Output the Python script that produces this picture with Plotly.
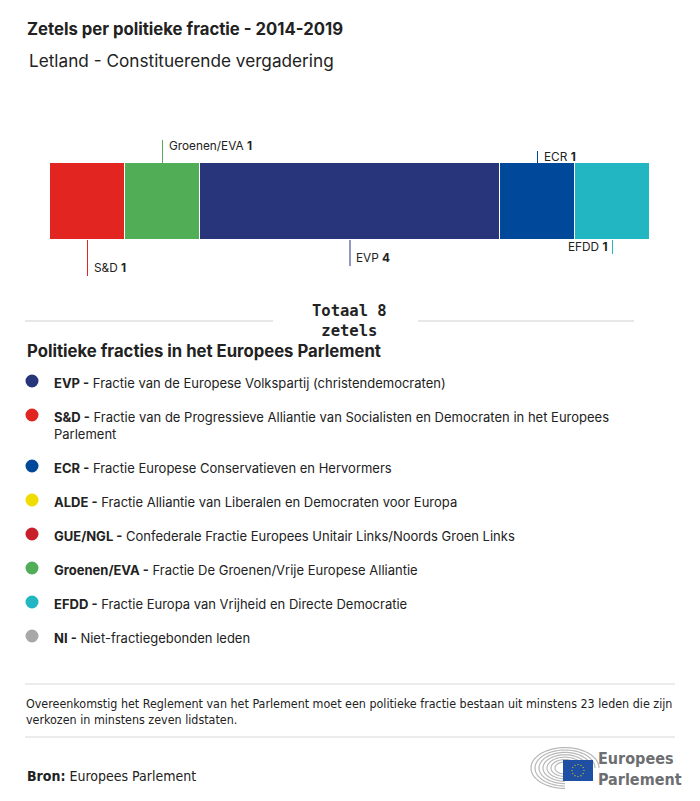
import plotly.graph_objects as go
import math

# ---------------- data ----------------
groups = ["S&D", "Groenen/EVA", "EVP", "ECR", "EFDD"]
seats = [1, 1, 4, 1, 1]
group_colors = ["#e32521", "#52ad57", "#29357a", "#00489a", "#22b6c3"]

legend_abbr = ["EVP", "S&D", "ECR", "ALDE", "GUE/NGL", "Groenen/EVA", "EFDD", "NI"]
legend_desc = [
    "Fractie van de Europese Volkspartij (christendemocraten)",
    "Fractie van de Progressieve Alliantie van Socialisten en Democraten in het Europees<br>Parlement",
    "Fractie Europese Conservatieven en Hervormers",
    "Fractie Alliantie van Liberalen en Democraten voor Europa",
    "Confederale Fractie Europees Unitair Links/Noords Groen Links",
    "Fractie De Groenen/Vrije Europese Alliantie",
    "Fractie Europa van Vrijheid en Directe Democratie",
    "Niet-fractiegebonden leden",
]
legend_colors = ["#29357a", "#e32521", "#00489a", "#f0dc00", "#c8202a", "#52ad57", "#22b6c3", "#a8a8a8"]

title = "Zetels per politieke fractie - 2014-2019"
subtitle = "Letland - Constituerende vergadering"
total_label = "Totaal 8<br>zetels"
legend_title = "Politieke fracties in het Europees Parlement"
footnote = ("Overeenkomstig het Reglement van het Parlement moet een politieke fractie bestaan uit minstens 23 leden die zijn<br>"
            "verkozen in minstens zeven lidstaten.")
source = "<b>Bron:</b> Europees Parlement"

# ---------------- layout helpers (pixel -> paper) ----------------
W, H = 700, 801
OFF = 8  # page body margin
def px(x): return (x - OFF) / W
def py(y): return 1 - (y - OFF) / H

FONT = "Inter, Lato, sans-serif"
NARROW = "Liberation Sans Narrow, DejaVu Sans Condensed, sans-serif"
TXT = "#222222"

label_style = [
    dict(y0=240, y1=276, ty=268, anchor="left"),
    dict(y0=140, y1=163, ty=146, anchor="left"),
    dict(y0=240, y1=266, ty=258, anchor="left"),
    dict(y0=151, y1=163, ty=157, anchor="left"),
    dict(y0=240, y1=254, ty=247, anchor="right"),
]

fig = go.Figure()
for g, s, c in zip(groups, seats, group_colors):
    fig.add_trace(go.Bar(
        x=[s], y=[0], orientation="h", name=g,
        marker=dict(color=c, line=dict(color="white", width=1.5)),
        width=1, showlegend=False, hovertemplate=g + ": %{x}<extra></extra>",
    ))

total = sum(seats)
shapes, ann = [], []
cum = 0
for g, s, c, st in zip(groups, seats, group_colors, label_style):
    center = cum + s / 2
    cum += s
    shapes.append(dict(type="line", xref="x", yref="paper", x0=center, x1=center,
                       y0=py(st["y0"]), y1=py(st["y1"]), line=dict(color=c, width=1)))
    gtxt = g.replace("&", "&amp;")
    left = st["anchor"] == "left"
    ann.append(dict(x=center, xref="x", xshift=4 if left else -3, y=py(st["ty"]), yref="paper",
                    text=f"{gtxt} <b>{s}</b>", showarrow=False,
                    xanchor="left" if left else "right",
                    yanchor="middle", font=dict(family=FONT, size=11.8, color=TXT)))

# titles
ann.append(dict(x=px(25), y=py(29), xref="paper", yref="paper", text=f"<b>{title}</b>",
                showarrow=False, xanchor="left", yanchor="middle",
                font=dict(family=FONT, size=16.7, color=TXT)))
ann.append(dict(x=px(27), y=py(60), xref="paper", yref="paper", text=subtitle,
                showarrow=False, xanchor="left", yanchor="middle",
                font=dict(family=FONT, size=17.2, color=TXT)))

# total
ann.append(dict(x=px(349), y=py(321), xref="paper", yref="paper", text=f"<b>{total_label}</b>",
                showarrow=False, xanchor="center", yanchor="middle",
                font=dict(family="DejaVu Sans Mono, monospace", size=15.5, color=TXT)))
for x0, x1 in [(25, 273), (418, 634)]:
    shapes.append(dict(type="line", xref="paper", yref="paper", x0=px(x0), x1=px(x1),
                       y0=py(321), y1=py(321), line=dict(color="#d0d0d0", width=1)))

# legend title
ann.append(dict(x=px(25), y=py(351), xref="paper", yref="paper", text=f"<b>{legend_title}</b>",
                showarrow=False, xanchor="left", yanchor="middle",
                font=dict(family=FONT, size=16.7, color=TXT)))

legend_rows = [381, 415, 466, 500, 534, 568, 602, 636]
for yy, a, d, c in zip(legend_rows, legend_abbr, legend_desc, legend_colors):
    r = 6.5
    shapes.append(dict(type="circle", xref="paper", yref="paper",
                       x0=px(32 - r), x1=px(32 + r), y0=py(yy + r), y1=py(yy - r),
                       fillcolor=c, line=dict(width=0)))
    a2 = a.replace("&", "&amp;")
    ann.append(dict(x=px(52), y=py(yy - 8), xref="paper", yref="paper",
                    text=f"<b>{a2} -</b> {d}", showarrow=False, xanchor="left", yanchor="top",
                    align="left", font=dict(family=FONT, size=13, color=TXT)))

# footnote
for yy in (684, 737):
    shapes.append(dict(type="line", xref="paper", yref="paper", x0=px(25), x1=px(675),
                       y0=py(yy), y1=py(yy), line=dict(color="#d8d8d8", width=1)))
ann.append(dict(x=px(24), y=py(694), xref="paper", yref="paper", text=footnote,
                showarrow=False, xanchor="left", yanchor="top", align="left",
                font=dict(family=NARROW, size=12.4, color=TXT)))
ann.append(dict(x=px(25), y=py(776), xref="paper", yref="paper", text=source,
                showarrow=False, xanchor="left", yanchor="middle",
                font=dict(family=NARROW, size=14, color=TXT)))

# logo (hemicycle arcs + flag + wordmark)
cx, cy = 565, 768
for rr in [10, 14, 18, 22, 26, 30, 34]:
    pts = []
    for k in range(0, 41):
        t = math.pi * (0.5 + k / 40 * 1.0)
        pts.append((cx + rr * math.cos(t), cy - rr * 0.6 * math.sin(t)))
    path = "M " + " L ".join(f"{px(x):.5f},{py(y):.5f}" for x, y in pts)
    shapes.append(dict(type="path", xref="paper", yref="paper", path=path,
                       line=dict(color="#b8b8b8", width=1.2)))
    pts2 = []
    for k in range(0, 21):
        t = math.pi * (k / 20 * 0.5)
        pts2.append((cx + rr * math.cos(t), cy - rr * 0.6 * math.sin(t)))
    path2 = "M " + " L ".join(f"{px(x):.5f},{py(y):.5f}" for x, y in pts2)
    shapes.append(dict(type="path", xref="paper", yref="paper", path=path2,
                       line=dict(color="#b8b8b8", width=1.2)))
shapes.append(dict(type="rect", xref="paper", yref="paper", x0=px(563), x1=px(593),
                   y0=py(781), y1=py(760), fillcolor="#1f4fa3", line=dict(width=0)))
for k in range(12):
    t = 2 * math.pi * k / 12
    sx, sy = 578 + 6 * math.cos(t), 770.5 + 6 * math.sin(t)
    shapes.append(dict(type="circle", xref="paper", yref="paper",
                       x0=px(sx - 0.6), x1=px(sx + 0.6), y0=py(sy + 0.6), y1=py(sy - 0.6),
                       fillcolor="#f5d800", line=dict(width=0)))
ann.append(dict(x=px(596), y=py(769), xref="paper", yref="paper",
                text="<b>Europees<br>Parlement</b>", showarrow=False, xanchor="left",
                yanchor="middle", align="left",
                font=dict(family=NARROW, size=16, color="#6d6e71")))

fig.update_layout(
    width=W, height=H, margin=dict(l=0, r=0, t=0, b=0),
    paper_bgcolor="white", plot_bgcolor="white", barmode="stack", bargap=0,
    xaxis=dict(domain=[px(50), px(650)], range=[0, total], visible=False, fixedrange=True),
    yaxis=dict(domain=[py(240), py(163)], range=[-0.5, 0.5], visible=False, fixedrange=True),
    shapes=shapes, annotations=ann, showlegend=False,
)
fig.write_html("out.html")
